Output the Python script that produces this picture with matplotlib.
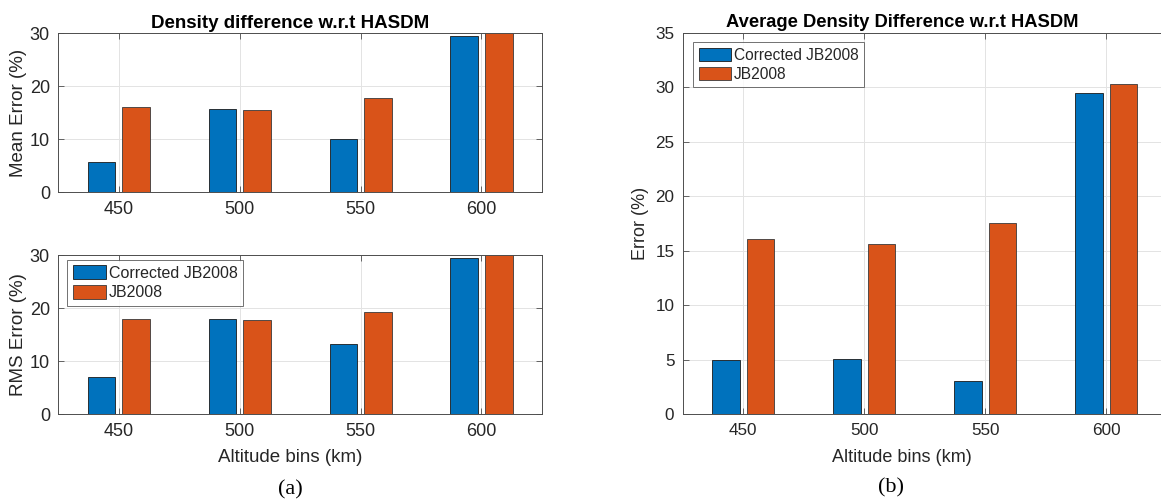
import numpy as np
import matplotlib
matplotlib.use("Agg")
import matplotlib.pyplot as plt


# data
altitudes = [450, 500, 550, 600]
series_names = ["Corrected JB2008", "JB2008"]

mean_corrected = [5.7, 15.8, 10.1, 29.4]
mean_jb2008 = [16.0, 15.5, 17.7, 30.3]

rms_corrected = [7.1, 18.0, 13.2, 29.4]
rms_jb2008 = [17.9, 17.7, 19.3, 30.3]

avg_corrected = [4.98, 5.07, 3.06, 29.5]
avg_jb2008 = [16.1, 15.6, 17.55, 30.3]

BLUE = "#0072BD"
ORANGE = "#D95319"
AX_COL = "#4d4d4d"
TXT_COL = "#262626"

plt.rcParams["font.family"] = ["Liberation Sans", "DejaVu Sans"]


def style_axes(ax, fs):
    ax.set_xlim(425, 625)
    ax.set_xticks(altitudes)
    ax.grid(True, color="#e3e3e3", linewidth=0.7)
    ax.set_axisbelow(True)
    for sp in ax.spines.values():
        sp.set_color(AX_COL)
        sp.set_linewidth(0.7)
    ax.tick_params(direction="in", top=True, right=True, length=4, width=0.6,
                   color=AX_COL, labelcolor=TXT_COL, labelsize=fs, pad=6)


def draw_bars(ax, a, b):
    x = np.array(altitudes, dtype=float)
    w = 11.4
    off = 7.14
    b1 = ax.bar(x - off, a, width=w, color=BLUE, edgecolor="#1a1a1a", linewidth=0.6)
    b2 = ax.bar(x + off, b, width=w, color=ORANGE, edgecolor="#3a3a3a", linewidth=0.6)
    return b1, b2


def add_legend(ax, handles, fs, anchor):
    leg = ax.legend(handles, series_names, loc="upper left", bbox_to_anchor=anchor,
                    fontsize=fs, frameon=True, fancybox=False, handlelength=2.1,
                    handleheight=0.95, handletextpad=0.15, borderpad=0.35,
                    labelspacing=0.25, borderaxespad=0.0)
    leg.get_frame().set_edgecolor(AX_COL)
    leg.get_frame().set_linewidth(0.7)
    for t in leg.get_texts():
        t.set_color(TXT_COL)


fig = plt.figure(figsize=(11.61, 5.04), dpi=100)

# (a) top: mean error
ax1 = fig.add_axes([0.0502, 0.6185, 0.4166, 0.3155])
draw_bars(ax1, mean_corrected, mean_jb2008)
style_axes(ax1, 13)
ax1.set_ylim(0, 30)
ax1.set_yticks([0, 10, 20, 30])
ax1.set_ylabel("Mean Error (%)", fontsize=13.5, color=TXT_COL)
ax1.yaxis.set_label_coords(-0.064, 0.5)
ax1.set_title("Density difference w.r.t HASDM", fontsize=13.5, fontweight="bold",
              x=0.479, pad=4)

# (a) bottom: RMS error
ax2 = fig.add_axes([0.0502, 0.178, 0.4166, 0.316])
h = draw_bars(ax2, rms_corrected, rms_jb2008)
style_axes(ax2, 13)
ax2.set_ylim(0, 30)
ax2.set_yticks([0, 10, 20, 30])
ax2.set_ylabel("RMS Error (%)", fontsize=13.5, color=TXT_COL)
ax2.yaxis.set_label_coords(-0.064, 0.5)
ax2.set_xlabel("Altitude bins (km)", fontsize=13.5, color=TXT_COL)
ax2.xaxis.set_label_coords(0.479, -0.215)
add_legend(ax2, h, 11.5, (0.018, 0.97))

# (b) average density difference
ax3 = fig.add_axes([0.588, 0.178, 0.417, 0.757])
h = draw_bars(ax3, avg_corrected, avg_jb2008)
style_axes(ax3, 12.3)
ax3.set_ylim(0, 35)
ax3.set_yticks(range(0, 36, 5))
ax3.set_ylabel("Error (%)", fontsize=13, color=TXT_COL)
ax3.yaxis.set_label_coords(-0.069, 0.5)
ax3.set_xlabel("Altitude bins (km)", fontsize=13, color=TXT_COL)
ax3.xaxis.set_label_coords(0.453, -0.09)
ax3.set_title("Average Density Difference w.r.t HASDM", fontsize=13.2,
              fontweight="bold", x=0.453, pad=4)
add_legend(ax3, h, 11.2, (0.022, 0.975))

fig.text(0.2498, 0.018, "(a)", fontsize=16, family="Liberation Serif", ha="center")
fig.text(0.7675, 0.022, "(b)", fontsize=16, family="Liberation Serif", ha="center")

fig.savefig("out.png", dpi=100)
